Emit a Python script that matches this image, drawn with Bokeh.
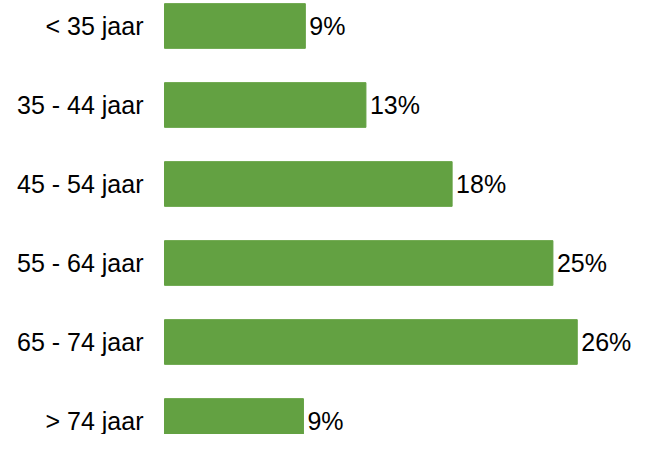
from bokeh.plotting import figure
from bokeh.models import Range1d, ColumnDataSource
from bokeh.core.properties import value
from bokeh.embed import file_html
from bokeh.resources import INLINE

categories = ["< 35 jaar", "35 - 44 jaar", "45 - 54 jaar", "55 - 64 jaar", "65 - 74 jaar", "> 74 jaar"]
values = [8.97, 12.83, 18.32, 24.74, 26.29, 8.85]
value_labels = ["9%", "13%", "18%", "25%", "26%", "9%"]

pos = list(range(len(categories)))
src = ColumnDataSource(dict(y=pos, v=values, cat=categories, lab=value_labels, zero=[0] * len(pos)))

W, H = 634, 434
x0_px = 164.0
x_scale = 15.7
y0_px = 25.5
y_scale = 79.0

p = figure(width=W, height=H, output_backend="svg", toolbar_location=None,
           x_range=Range1d(-x0_px / x_scale, (W - x0_px) / x_scale),
           y_range=Range1d((H - y0_px) / y_scale, -y0_px / y_scale),
           min_border=0, outline_line_color=None)
p.axis.visible = False
p.grid.visible = False
p.background_fill_color = "white"
p.border_fill_color = "white"

p.hbar(y="y", left=0, right="v", height=0.566, color="#63A142", source=src)
p.text(x="zero", y="y", text="cat", source=src, x_offset=-21, text_align="right",
       text_baseline="middle", text_font=value("Liberation Sans"), text_font_size="25px",
       text_color="black")
p.text(x="v", y="y", text="lab", source=src, x_offset=4, text_align="left",
       text_baseline="middle", text_font=value("Liberation Sans"), text_font_size="25px",
       text_color="black")

open("out.html", "w").write(file_html(p, INLINE))
